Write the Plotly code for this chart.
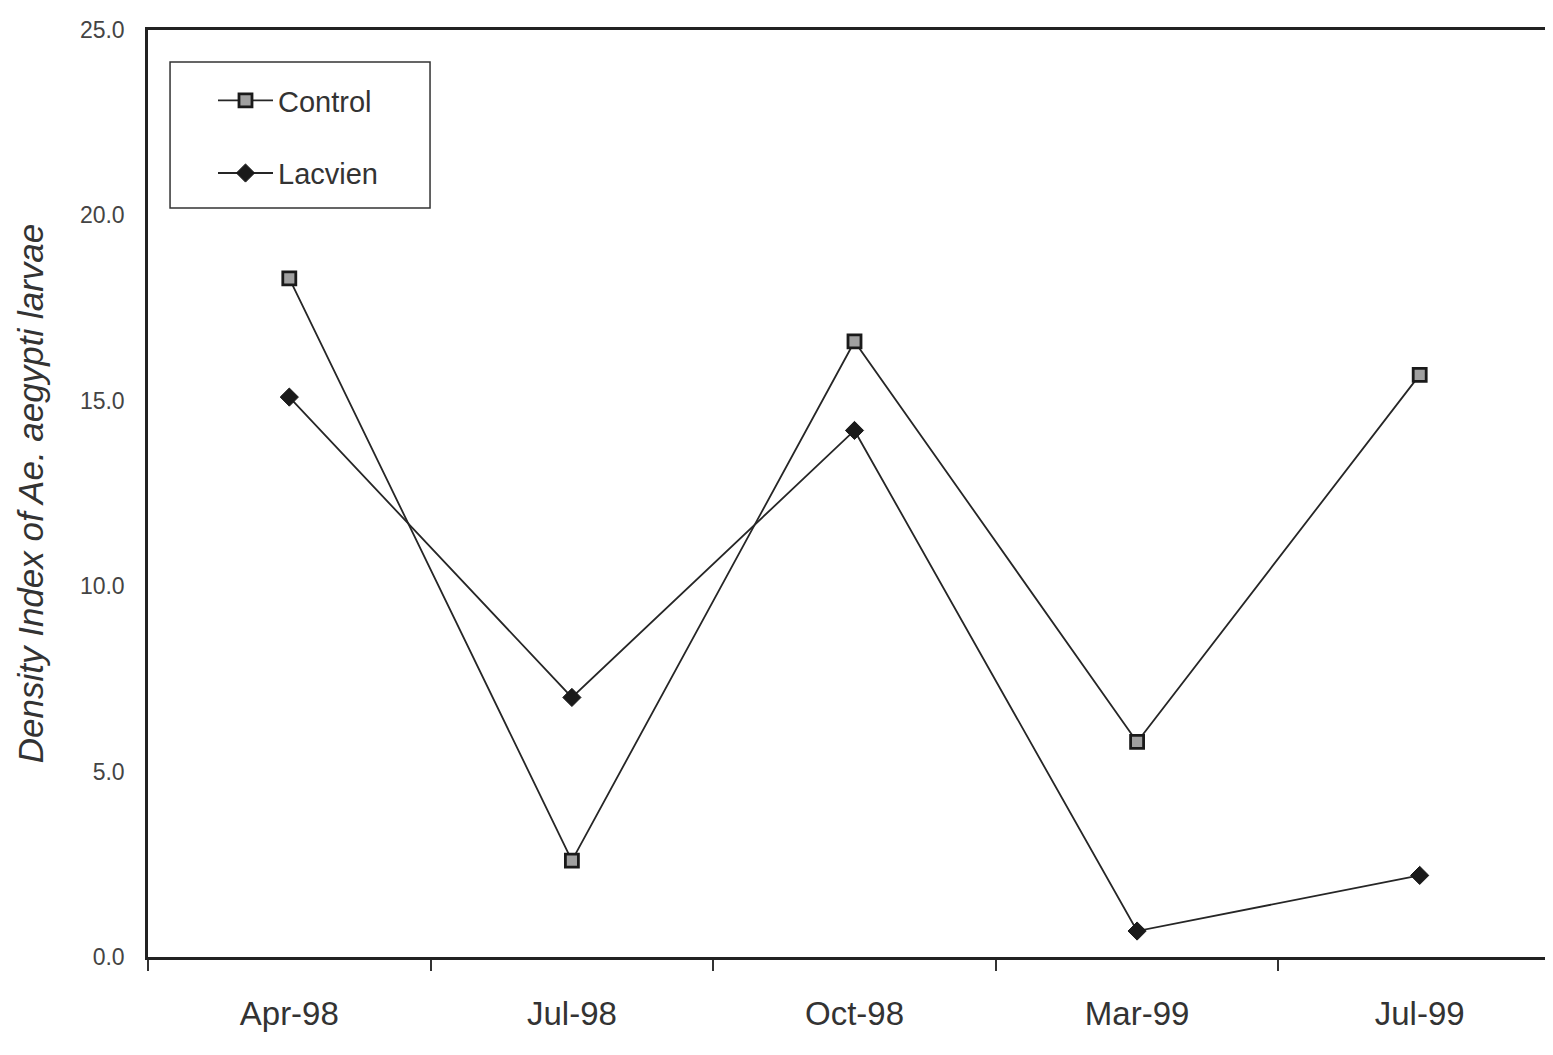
import plotly.graph_objects as go

months = ["Apr-98", "Jul-98", "Oct-98", "Mar-99", "Jul-99"]
control = [18.3, 2.6, 16.6, 5.8, 15.7]
lacvien = [15.1, 7.0, 14.2, 0.7, 2.2]
y_ticks = [0, 5, 10, 15, 20, 25]
y_tick_text = ["0.0", "5.0", "10.0", "15.0", "20.0", "25.0"]

fig = go.Figure()
fig.add_trace(go.Scatter(
    x=months, y=control, name="Control", mode="lines+markers",
    legendgroup="a",
    line=dict(color="#262626", width=1.8),
    marker=dict(symbol="square", size=13, color="#a0a0a0",
                line=dict(color="#1a1a1a", width=2.8)),
))
fig.add_trace(go.Scatter(
    x=months, y=lacvien, name="Lacvien", mode="lines+markers",
    legendgroup="b",
    line=dict(color="#262626", width=1.8),
    marker=dict(symbol="diamond", size=14, color="#1a1a1a",
                line=dict(color="#1a1a1a", width=1)),
))

# legend frame (decoration only)
fig.add_shape(type="rect", xref="paper", yref="paper",
              x0=0.0156, x1=0.1996, y0=0.808, y1=0.9655,
              line=dict(color="#333333", width=1.5), fillcolor="rgba(0,0,0,0)")

fig.update_layout(
    width=1553, height=1055,
    margin=dict(l=140, r=0, t=22, b=106, autoexpand=False),
    paper_bgcolor="white", plot_bgcolor="white",
    font=dict(family="Liberation Sans, Arial, sans-serif", color="#333333"),
    showlegend=True,
    legend=dict(
        x=0.046, y=0.9515, xanchor="left", yanchor="top",
        borderwidth=0,
        bgcolor="rgba(255,255,255,0)",
        font=dict(size=29, color="#333333"),
        traceorder="grouped", tracegroupgap=32,
        itemwidth=55,
    ),
    xaxis=dict(
        type="category", range=[-0.5, 4.5],
        showline=True, linecolor="#222222", linewidth=2.5, mirror=True,
        ticks="outside", tickson="boundaries", ticklen=11, tickwidth=1.5,
        tickcolor="#333333",
        showgrid=False, zeroline=False,
        tickfont=dict(size=33, color="#333333"),
        ticklabelstandoff=26,
    ),
    yaxis=dict(
        range=[0, 25], tickvals=y_ticks, ticktext=y_tick_text,
        showline=True, linecolor="#222222", linewidth=2.5,
        ticks="", showgrid=False, zeroline=False,
        tickfont=dict(size=23, color="#444444"),
        ticklabelstandoff=16,
        title=dict(text="<i>Density Index of Ae. aegypti larvae</i>",
                   font=dict(size=35, color="#333333"), standoff=26),
    ),
)

fig.write_html("out.html")
